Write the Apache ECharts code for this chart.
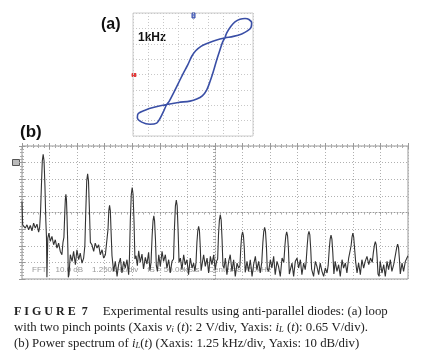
<!DOCTYPE html>
<html><head><meta charset="utf-8">
<script src="https://cdn.jsdelivr.net/npm/echarts@6/dist/echarts.min.js"></script>
<style>html,body{margin:0;padding:0;background:#fff}#c{width:442px;height:362px}</style>
</head><body><div id="c"></div>
<script>
// (a) pinched hysteresis loop, in screen divisions (x: 2 V/div, y: 0.65 V/div)
const loopX = [2.13,2.25,2.53,2.8,3.13,3.47,3.73,3.91,3.87,3.65,3.25,2.69,2.13,
  1.58,1.02,0.53,0.18,-0.09,-0.35,-0.65,-0.98,-1.31,-1.58,-1.75,
  -1.98,-2.2,-2.42,-2.87,-3.42,-3.71,-3.65,-3.2,-2.53,-1.75,
  -0.98,-0.2,0.25,0.62,0.91,1.13,1.35,1.58,1.8,1.98,2.13];
const loopY = [2.38,2.71,3.14,3.42,3.59,3.64,3.58,3.36,3.07,2.85,2.64,2.48,2.38,
  2.25,2.05,1.83,1.54,1.17,0.62,0.08,-0.58,-1.23,-1.73,-1.95,
  -2.43,-2.86,-3.16,-3.24,-3.1,-2.82,-2.54,-2.32,-2.12,-1.95,
  -1.82,-1.73,-1.6,-1.39,-1.01,-0.47,0.18,0.95,1.61,2.12,2.38];
// (b) power spectrum: frequency (kHz) and level (dB)
const specFreq = [0,0.03,0.074,0.15,0.225,0.301,0.376,0.452,0.527,0.603,0.679,0.754,
 0.8,0.84,0.88,0.92,0.96,1.0,1.04,1.08,1.11,1.13,
 1.17,1.22,1.283,1.358,1.434,1.51,1.585,1.66,1.736,1.81,1.857,
 1.9,1.94,1.965,1.99,2.015,2.04,2.08,2.1,
 2.13,2.19,2.27,2.34,2.42,2.49,2.57,2.64,2.72,2.795,
 2.85,2.89,2.935,2.975,3.015,3.06,3.1,
 3.17,3.25,3.32,3.4,3.475,3.55,3.63,3.7,3.78,
 3.86,3.9,3.935,3.97,4.005,4.04,4.08,
 4.155,4.23,4.31,4.38,4.46,4.53,4.61,4.68,4.76,4.835,
 4.87,4.91,4.955,4.996,5.035,5.08,5.12,
 5.17,5.23,5.29,5.36,5.44,5.51,5.59,5.665,5.74,5.8,
 5.85,5.9,5.94,5.976,6.01,6.05,6.09,
 6.14,6.2,6.27,6.35,6.42,6.5,6.57,6.65,6.72,6.8,
 6.87,6.91,6.955,6.996,7.035,7.08,7.12,
 7.18,7.25,7.33,7.4,7.48,7.55,7.63,7.71,7.78,7.84,
 7.89,7.93,7.97,8.007,8.045,8.08,8.12,
 8.17,8.235,8.31,8.39,8.46,8.54,8.61,8.69,8.76,8.82,
 8.87,8.91,8.95,8.99,9.03,9.07,9.11,
 9.16,9.22,9.29,9.37,9.44,9.52,9.595,9.67,9.75,9.82,
 9.88,9.92,9.96,10.0,10.04,10.08,10.12,
 10.2,10.27,10.35,10.43,10.5,10.58,10.65,10.73,10.8,
 10.87,10.92,10.96,11.0,11.04,11.08,11.12,
 11.18,11.26,11.33,11.41,11.48,11.56,11.63,11.71,11.79,
 11.87,11.92,11.96,12.0,12.04,12.08,12.12,
 12.17,12.24,12.315,12.39,12.47,12.54,12.62,12.69,12.77,12.84,
 12.88,12.93,12.97,13.01,13.05,13.09,13.13,
 13.18,13.22,13.3,13.37,13.45,13.52,13.6,13.675,13.75,13.83,
 13.88,13.93,13.97,14.01,14.05,14.09,14.14,
 14.2,14.28,14.355,14.43,14.51,14.58,14.66,14.73,14.81,
 14.87,14.92,14.96,15.0,15.04,15.08,15.13,
 15.19,15.26,15.34,15.41,15.49,15.56,15.64,15.72,15.8,
 15.88,15.93,15.98,16.02,16.06,16.1,16.14,
 16.19,16.24,16.32,16.4,16.47,16.55,16.62,16.7,16.77,16.85,
 16.9,16.95,16.99,17.03,17.07,17.11,17.15,
 17.23,17.3,17.38,17.45,17.5];
const specDb = [-33.4,-47.4,-48.4,-49.4,-47.4,-50.4,-47.8,-51,-46.4,-49.4,-47,-51.8,
 -49,-40,-24,-9,-5,-9,-24,-45,-55,-79,
 -55.4,-52.4,-57.4,-54.4,-59.4,-56.4,-61.4,-58.4,-63.4,-65.4,-58,
 -55,-40,-32,-29,-32,-42,-62,-79,
 -77.4,-65.4,-69.4,-63.4,-71.4,-62.4,-68.4,-64.4,-70.4,-67.4,
 -60,-40,-21,-16.7,-21,-40,-58,
 -59.4,-63.4,-58.4,-61.4,-59.4,-65.4,-62.4,-67.4,-65.4,
 -66,-50,-39,-35.7,-39,-52,-66,
 -75.4,-69.4,-78.4,-71.4,-67.4,-76.4,-69.4,-73.4,-68.4,-77.4,
 -68,-45,-29,-25,-29,-46,-68,
 -66,-72,-63,-70,-65,-74,-67,-71,-64,-75,
 -70,-54,-45,-42,-45,-56,-72,
 -75.4,-65.4,-72.4,-63.4,-69.4,-65.4,-73.4,-68.4,-76.4,-69.4,
 -68,-50,-36,-32.5,-36,-52,-70,
 -67.4,-74.4,-65.4,-71.4,-68.4,-77.4,-67.4,-73.4,-70.4,-75.4,
 -70,-58,-51,-48.4,-51,-60,-75,
 -75.4,-65.4,-72.4,-67.4,-76.4,-66.4,-71.4,-65.4,-74.4,-69.4,
 -68,-53,-44.5,-41.4,-44.5,-56,-72,
 -73.4,-67.4,-77.4,-69.4,-65.4,-75.4,-68.4,-78.4,-70.4,-73.4,
 -72,-61,-54,-51.6,-54,-62,-76,
 -69.4,-75.4,-68.4,-78.4,-71.4,-66.4,-74.4,-69.4,-76.4,
 -70,-58,-51.5,-49,-51.5,-60,-74,
 -75.4,-68.4,-73.4,-66.4,-77.4,-69.4,-72.4,-78.4,-67.4,
 -70,-60,-54,-51.6,-54,-62,-77,
 -77.4,-70.4,-78.4,-69.4,-67.4,-73.4,-68.4,-77.4,-70.4,-74.4,
 -70,-60,-53.5,-51.3,-53.5,-62,-74,
 -73.4,-78.4,-69.4,-72.4,-77.4,-70.4,-75.4,-78.4,-73.4,-76.4,
 -72,-62,-56,-53.6,-56,-64,-77,
 -69.4,-75.4,-71.4,-78.4,-68.4,-73.4,-70.4,-76.4,-67.4,
 -68,-60,-55,-52.4,-55,-62,-70,
 -76.4,-70.4,-77.4,-68.4,-73.4,-69.4,-66.4,-71.4,-67.4,
 -70,-64,-59.5,-57.6,-59.5,-67,-77,
 -78.4,-69.4,-76.4,-71.4,-78.4,-69.4,-74.4,-68.4,-75.4,-71.4,
 -72,-64,-61,-59,-61,-68,-77,
 -70.4,-75.4,-69.4,-67.4,-66];

const chart = echarts.init(document.getElementById('c'), null, {renderer: 'canvas'});
const noAx = {show: false};
const specTick = {show: true, inside: true, length: 3, lineStyle: {color: '#999', width: 1}};
const specMinor = {show: true, splitNumber: 5, length: 2, lineStyle: {color: '#aaa', width: 1}};
const dotted = (c) => ({show: true, lineStyle: {color: c, type: [1, 2], width: 1}});

const serif = '"Liberation Serif", "DejaVu Serif", serif';
const sans = '"Liberation Sans", Arial, sans-serif';
const capSize = 12.8;
const richCap = {
  it: {fontStyle: 'italic', fontFamily: serif, fontSize: capSize, fill: '#222'},
  sub: {fontStyle: 'italic', fontFamily: serif, fontSize: 8.5, verticalAlign: 'bottom', padding: [5, 0, 0, 0], fill: '#222'}
};

chart.setOption({
  animation: false,
  backgroundColor: '#fff',
  grid: [
    {left: 133, top: 13, width: 120, height: 123, show: true, borderColor: '#ccc', borderWidth: 1, backgroundColor: 'transparent'},
    {left: 22, top: 146, width: 386, height: 133, show: true, borderColor: '#999', borderWidth: 1, backgroundColor: 'transparent'}
  ],
  xAxis: [
    {gridIndex: 0, type: 'value', min: -4, max: 4, interval: 1, axisLine: noAx, axisTick: noAx, axisLabel: noAx, splitLine: dotted('#c8c8c8')},
    {gridIndex: 1, type: 'value', min: 0, max: 17.5, interval: 1.25, position: 'bottom', axisLine: noAx, axisTick: specTick, minorTick: specMinor, axisLabel: noAx, splitLine: dotted('#b0b0b0')},
    {gridIndex: 1, type: 'value', min: 0, max: 17.5, interval: 1.25, position: 'top', axisLine: noAx, axisTick: specTick, minorTick: specMinor, axisLabel: noAx, splitLine: noAx},
    {gridIndex: 1, type: 'value', min: 0, max: 17.5, interval: 1.25, position: 'bottom', offset: -66.5, axisLine: {show: true, lineStyle: {color: '#999', type: [1, 2]}}, axisTick: {show: true, length: 2, lineStyle: {color: '#999'}}, minorTick: specMinor, axisLabel: noAx, splitLine: noAx}
  ],
  yAxis: [
    {gridIndex: 0, type: 'value', min: -4, max: 4, interval: 1, axisLine: noAx, axisTick: noAx, axisLabel: noAx, splitLine: dotted('#c8c8c8')},
    {gridIndex: 1, type: 'value', min: -80, max: 0, interval: 10, position: 'left', axisLine: noAx, axisTick: specTick, minorTick: specMinor, axisLabel: noAx, splitLine: dotted('#b0b0b0')},
    {gridIndex: 1, type: 'value', min: -80, max: 0, interval: 10, position: 'right', axisLine: noAx, axisTick: specTick, minorTick: specMinor, axisLabel: noAx, splitLine: noAx},
    {gridIndex: 1, type: 'value', min: -80, max: 0, interval: 10, position: 'left', offset: -193, axisLine: {show: true, lineStyle: {color: '#999', type: [1, 2]}}, axisTick: {show: true, length: 2, lineStyle: {color: '#999'}}, minorTick: specMinor, axisLabel: noAx, splitLine: noAx}
  ],
  series: [
    {type: 'line', xAxisIndex: 0, yAxisIndex: 0, data: loopX.map((x, i) => [x, loopY[i]]), showSymbol: false, smooth: 0.35,
     lineStyle: {color: '#3a4fa6', width: 1.6}, z: 5},
    {type: 'line', xAxisIndex: 1, yAxisIndex: 1, data: specFreq.map((f, i) => [f, specDb[i]]), showSymbol: false,
     lineStyle: {color: '#333', width: 1.1}, z: 5}
  ],
  graphic: [
    {type: 'text', x: 101, y: 25, style: {text: '(a)', font: 'bold 16px ' + sans, fill: '#111', verticalAlign: 'middle'}},
    {type: 'text', x: 138, y: 38, style: {text: '1kHz', font: 'bold 12px ' + sans, fill: '#111', verticalAlign: 'middle'}},
    {type: 'text', x: 20, y: 132, style: {text: '(b)', font: 'bold 17px ' + sans, fill: '#111', verticalAlign: 'middle'}},
    {type: 'rect', shape: {x: 192, y: 13, width: 3, height: 5}, style: {fill: '#7b8fd8', stroke: '#3a4fa6', lineWidth: 1}},
    {type: 'rect', shape: {x: 132, y: 73.5, width: 4, height: 3}, style: {fill: '#e23b3b', stroke: '#e23b3b'}},
    {type: 'rect', shape: {x: 12.5, y: 159.5, width: 7, height: 6}, style: {fill: '#bbb', stroke: '#555', lineWidth: 1}},
    {type: 'text', x: 32, y: 270, style: {text: 'FFT    10.0 dB    1.250kHz/div    fS = 50.00kS/s    Center=8.750kHz', font: '8px ' + sans, fill: '#999', verticalAlign: 'middle'}},
    {type: 'text', x: 14, y: 311.5, style: {text: 'F I G U R E  7', font: 'bold 12px ' + serif, fill: '#222', verticalAlign: 'middle'}},
    {type: 'text', x: 102.7, y: 311.5, style: {text: 'Experimental results using anti-parallel diodes: (a) loop', font: capSize + 'px ' + serif, fill: '#222', verticalAlign: 'middle'}},
    {type: 'text', x: 14, y: 327.5, style: {text: 'with two pinch points (Xaxis {it|v}{sub|i} ({it|t}): 2 V/div, Yaxis: {it|i}{sub|L} ({it|t}): 0.65 V/div).', font: capSize + 'px ' + serif, fill: '#222', verticalAlign: 'middle', rich: richCap}},
    {type: 'text', x: 14, y: 343.5, style: {text: '(b) Power spectrum of {it|i}{sub|L}({it|t}) (Xaxis: 1.25 kHz/div, Yaxis: 10 dB/div)', font: capSize + 'px ' + serif, fill: '#222', verticalAlign: 'middle', rich: richCap}}
  ]
});
</script>
</body></html>
